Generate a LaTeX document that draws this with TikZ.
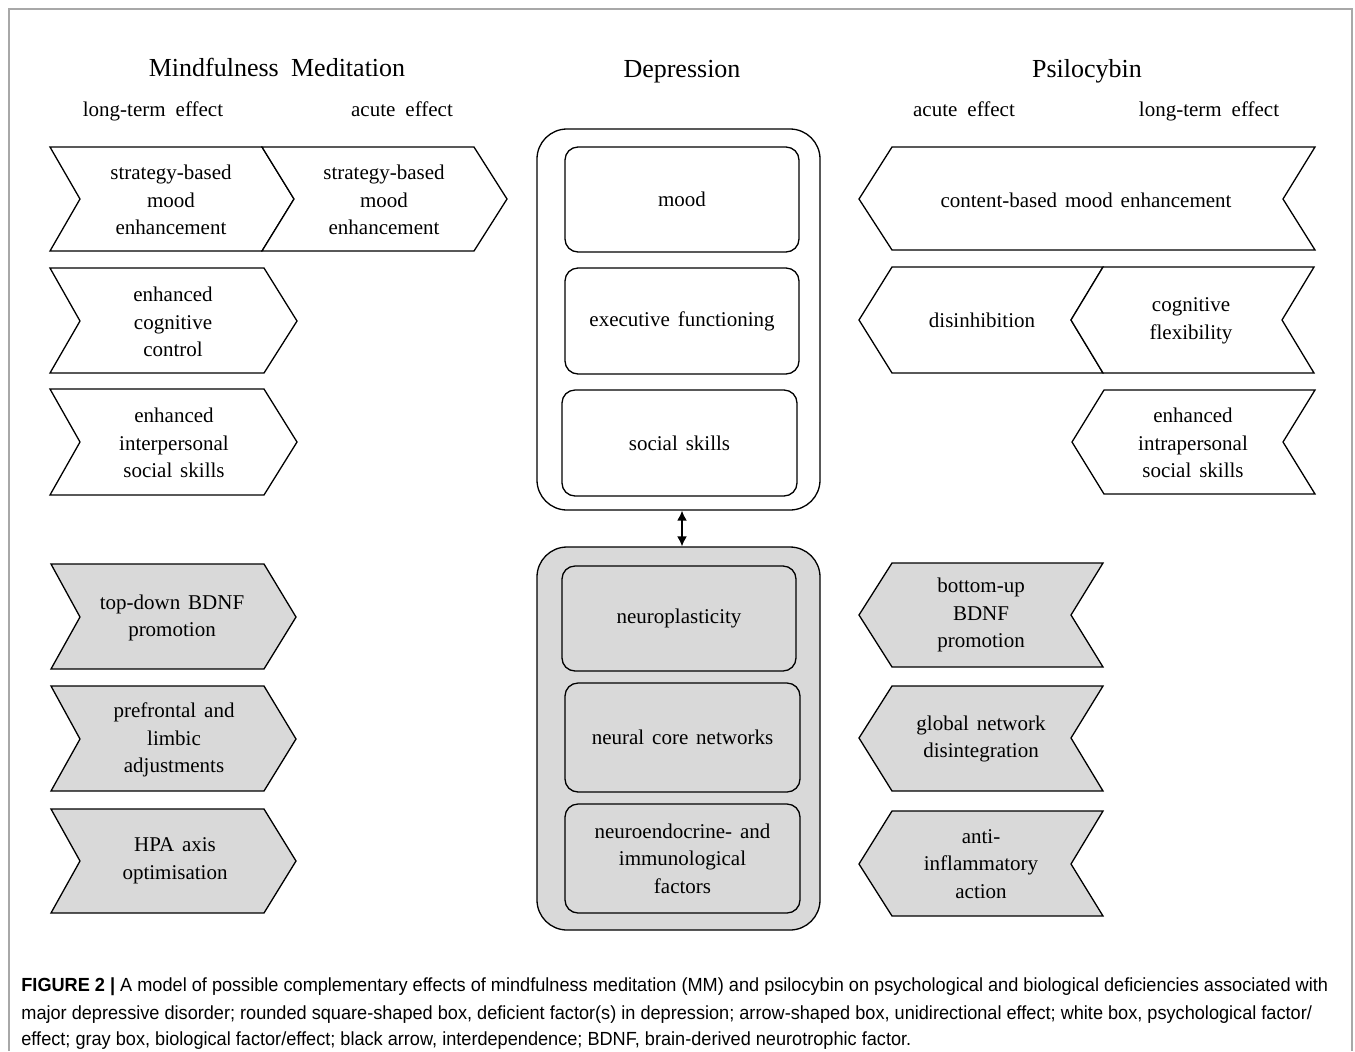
\documentclass[tikz,border=0pt]{standalone}
\usepackage{fontspec}
\usepackage{graphicx}
\setmainfont[WordSpace=1.5]{Liberation Serif}
\newfontfamily\wsfont[WordSpace=1.9]{Liberation Serif}
\newfontfamily\capfont{Liberation Sans}
\usetikzlibrary{arrows.meta}
\definecolor{boxgray}{RGB}{217,217,217}
\definecolor{framegray}{RGB}{168,168,168}
\newcommand\capone{\textbf{FIGURE 2 |} A model of possible complementary effects of mindfulness meditation (MM) and psilocybin on psychological and biological deficiencies associated with}
\newcommand\captwo{major depressive disorder; rounded square-shaped box, deficient factor(s) in depression; arrow-shaped box, unidirectional effect; white box, psychological factor/}
\newcommand\capthree{effect; gray box, biological factor/effect; black arrow, interdependence; BDNF, brain-derived neurotrophic factor.}
\newcommand\capsx{0.955}
\tikzset{
  shapeline/.style={draw=black, line width=0.65pt, line join=miter},
  wshape/.style={shapeline, fill=white},
  gshape/.style={shapeline, fill=boxgray},
  lbl/.style={align=center, inner sep=0pt, font=\fontsize{10.5}{13.75}\selectfont},
  head/.style={anchor=base, inner sep=0pt, font=\wsfont\fontsize{13}{15}\selectfont},
  subhead/.style={anchor=base, inner sep=0pt, font=\wsfont\fontsize{10.5}{13}\selectfont},
  outerbox/.style={draw=black, line width=0.65pt, rounded corners=15pt, minimum width=141.5pt, inner sep=0pt},
  innerbox/.style={draw=black, line width=0.65pt, rounded corners=6.5pt, inner sep=0pt, lbl},
  capline/.style={anchor=base west, inner sep=0pt, font=\capfont\fontsize{9.5}{12}\selectfont},
}
\begin{document}
\begin{tikzpicture}[x=0.5pt,y=-0.5pt]
\useasboundingbox (0,0) rectangle (1355,1051);
% frame
\draw[framegray, line width=1pt] (9,1051) -- (9,9) -- (1352,9) -- (1352,1051);

% headings
\node[head] (mmh) at (277,76) {Mindfulness Meditation};
\node[head] (deph) at (682,77) {Depression};
\node[head] (psih) at (1087,77) {Psilocybin};
\node[subhead] (mml) at (153,116) {long-term effect};
\node[subhead] (mma) at (402,116) {acute effect};
\node[subhead] (psa) at (964,116) {acute effect};
\node[subhead] (psl) at (1209,116) {long-term effect};

% left chevrons (pointing right)
\draw[wshape] (50,147) -- (262,147) -- (294,199) -- (262,251) -- (50,251) -- (80,199) -- cycle;
\draw[wshape] (262,147) -- (474,147) -- (507,199) -- (474,251) -- (262,251) -- (294,199) -- cycle;
\draw[wshape] (50,268) -- (264,268) -- (297,321) -- (264,373) -- (50,373) -- (80,321) -- cycle;
\draw[wshape] (50,389) -- (264,389) -- (297,442) -- (264,495) -- (50,495) -- (80,442) -- cycle;
\draw[gshape] (51,564) -- (264,564) -- (296,617) -- (264,669) -- (51,669) -- (80,617) -- cycle;
\draw[gshape] (51,686) -- (264,686) -- (296,739) -- (264,791) -- (51,791) -- (80,739) -- cycle;
\draw[gshape] (51,809) -- (264,809) -- (296,861) -- (264,913) -- (51,913) -- (80,861) -- cycle;

\node[lbl] (mm1a) at (171,200) {strategy-based\\mood\\enhancement};
\node[lbl] (mm1b) at (384,200) {strategy-based\\mood\\enhancement};
\node[lbl] (mm2) at (173,322) {enhanced\\cognitive\\control};
\node[lbl] (mm3) at (174,443) {enhanced\\interpersonal\\social skills};
\node[lbl] (mm4) at (172,618) {top-down BDNF\\promotion};
\node[lbl] (mm5) at (174,740) {prefrontal and\\limbic\\adjustments};
\node[lbl] (mm6) at (175,861) {HPA axis\\optimisation};

% right chevrons (pointing left)
\draw[wshape] (892,147) -- (1315,147) -- (1283,199) -- (1315,250) -- (892,250) -- (859,199) -- cycle;
\draw[wshape] (892,267) -- (1103,267) -- (1071,320) -- (1103,373) -- (892,373) -- (859,320) -- cycle;
\draw[wshape] (1103,267) -- (1314,267) -- (1282,320) -- (1314,373) -- (1103,373) -- (1071,320) -- cycle;
\draw[wshape] (1104,390) -- (1315,390) -- (1283,442) -- (1315,494) -- (1104,494) -- (1072,442) -- cycle;
\draw[gshape] (892,563) -- (1103,563) -- (1071,615) -- (1103,667) -- (892,667) -- (859,615) -- cycle;
\draw[gshape] (892,686) -- (1103,686) -- (1071,738) -- (1103,791) -- (892,791) -- (859,738) -- cycle;
\draw[gshape] (892,811) -- (1103,811) -- (1071,864) -- (1103,916) -- (892,916) -- (859,864) -- cycle;

\node[lbl] (ps1) at (1086,200) {content-based mood enhancement};
\node[lbl] (ps2a) at (982,320) {disinhibition};
\node[lbl] (ps2b) at (1191,321) {cognitive\\flexibility};
\node[lbl] (ps3) at (1193,443) {enhanced\\intrapersonal\\social skills};
\node[lbl] (ps4) at (981,615) {bottom-up\\BDNF\\promotion};
\node[lbl] (ps5) at (981,739) {global network\\disintegration};
\node[lbl] (ps6) at (981,864) {anti-\\inflammatory\\action};

% centre column
\node[outerbox, fill=white, minimum height=190.5pt] (psy) at (678.5,319.5) {};
\node[outerbox, fill=boxgray, minimum height=191.5pt] (bio) at (678.5,738.5) {};
\node[innerbox, minimum width=117pt, minimum height=52.5pt] (mood) at (682,199.5) {mood};
\node[innerbox, minimum width=117pt, minimum height=53pt] (exec) at (682,321) {executive functioning};
\node[innerbox, minimum width=117.5pt, minimum height=53pt] (soc) at (679.5,443) {social skills};
\node[innerbox, fill=boxgray, minimum width=117pt, minimum height=52.5pt] (np) at (679,618.5) {neuroplasticity};
\node[innerbox, fill=boxgray, minimum width=117.5pt, minimum height=54.5pt] (ncn) at (682.5,737.5) {neural core networks};
\node[innerbox, fill=boxgray, minimum width=117.5pt, minimum height=54.5pt] (nei) at (682.5,858.5) {neuroendocrine- and\\immunological\\factors};

\draw[line width=0.8pt, {Latex[length=5pt,width=5pt]}-{Latex[length=5pt,width=5pt]}]
  ([xshift=1.75pt]psy.south) -- ([xshift=1.75pt]bio.north);

% caption
\node[capline] (cap1) at (21,991) {\scalebox{\capsx}[1]{\capone}};
\node[capline] (cap2) at (21,1019) {\scalebox{\capsx}[1]{\captwo}};
\node[capline] (cap3) at (21,1045) {\scalebox{\capsx}[1]{\capthree}};
\end{tikzpicture}
\end{document}
